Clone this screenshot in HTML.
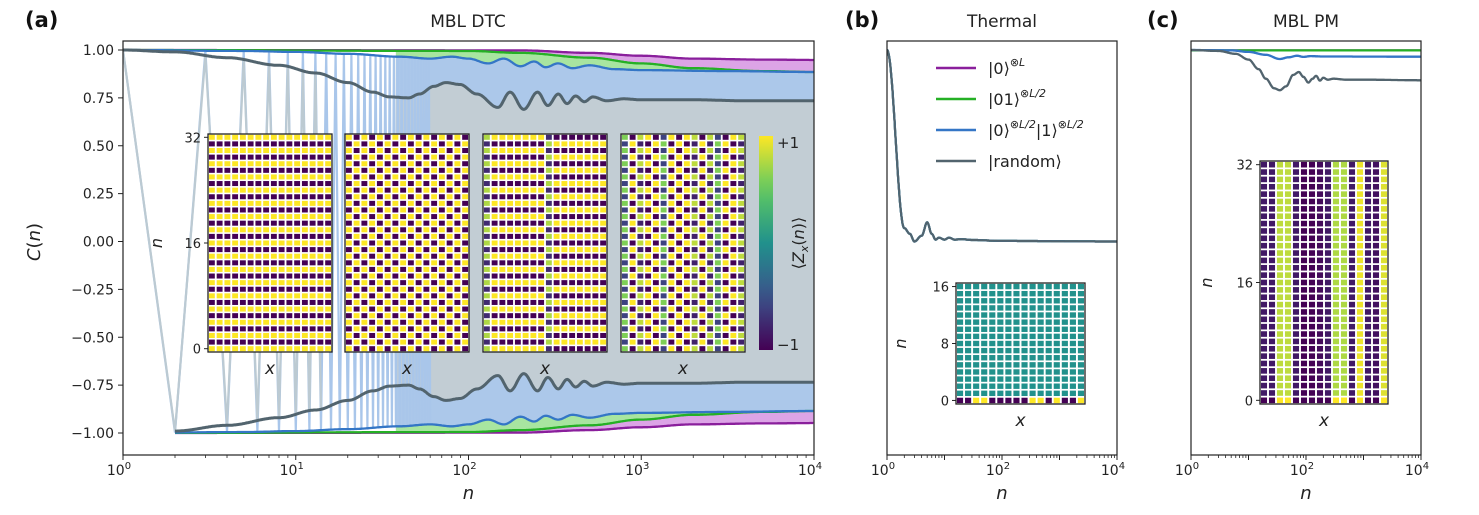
<!DOCTYPE html>
<html><head><meta charset="utf-8">
<style>
html,body{margin:0;padding:0;background:#fff;}
svg{display:block;font-family:"DejaVu Sans","Liberation Sans",sans-serif;}
</style></head>
<body>
<svg id="fig" width="1479" height="515" viewBox="0 0 1479 515"></svg>
<script>
// ---------- DATA ----------
const greyN = [1,2,4,8,13,20,28,35,45,52,63,74,89,112,148,174,209,251,288,331,372,417,468,525,631,794,1000,2000,4000,10000];
const greyV = [1,0.99,0.96,0.92,0.88,0.83,0.78,0.755,0.75,0.77,0.81,0.83,0.82,0.77,0.70,0.78,0.69,0.78,0.71,0.77,0.72,0.76,0.73,0.755,0.735,0.745,0.74,0.74,0.735,0.735];
const blueN = [1,5,10,20,40,60,80,100,130,160,200,240,280,330,400,500,700,1000,3000,10000];
const blueV = [1,0.995,0.99,0.98,0.965,0.955,0.965,0.955,0.93,0.955,0.915,0.94,0.91,0.93,0.905,0.92,0.9,0.895,0.89,0.885];
const greenN = [1,100,200,500,1000,2000,5000,10000];
const greenV = [1,0.995,0.985,0.96,0.93,0.905,0.89,0.885];
const purpleN = [1,200,500,1000,2000,5000,10000];
const purpleV = [1,0.998,0.985,0.97,0.955,0.95,0.948];
const thermN = [1,2,2.5,3,4,5,6,7,8,10,12,15,20,30,100,10000];
const thermV = [1,0.07,0.04,0.0,0.03,0.1,0.04,0.01,0.02,0.01,0.02,0.01,0.012,0.008,0.003,0.0];
const pmGreyN = [1,3,6,10,15,20,28,35,45,60,75,90,110,130,150,175,200,240,300,500,1000,10000];
const pmGreyV = [1,0.995,0.98,0.95,0.9,0.85,0.8,0.79,0.81,0.87,0.885,0.86,0.83,0.85,0.865,0.84,0.855,0.845,0.85,0.845,0.845,0.842];
const pmBlueN = [1,5,10,20,35,50,70,90,120,200,10000];
const pmBlueV = [1,0.998,0.99,0.975,0.953,0.962,0.97,0.964,0.968,0.966,0.965];
const pmGreenN = [1,10000];
const pmGreenV = [0.998,0.998];
const randSign = [1,-1,1,1,-1,-1,1,-1,1,1,-1,1,-1,-1,1,1];
const randAmp = [0.6,1,0.8,1,1,0.6,1,1,1,0.8,1,0.8,0.6,1,1,0.8];
const pmCols = [-0.85,-0.85,0.8,0.8,-0.85,-1,-1,-0.95,-0.85,0.75,0.75,-0.85,0.95,-0.85,-0.9,0.9];
const thermBottom = [-1,-1,1,1,-1,-1,-1,-1,-1,1,1,-1,1,-1,-1,1];
const yTicksA = [1,0.75,0.5,0.25,0,-0.25,-0.5,-0.75,-1];
const yTickLabelsA = ["1.00","0.75","0.50","0.25","0.00","\u22120.25","\u22120.50","\u22120.75","\u22121.00"];
const xTickExpA = [0,1,2,3,4];
const xTickExpBC = [0,2,4];

// ---------- helpers ----------
const NS="http://www.w3.org/2000/svg";
const svg=document.getElementById('fig');
function mk(tag,attrs,parent){const e=document.createElementNS(NS,tag);for(const k in attrs)e.setAttribute(k,attrs[k]);(parent||svg).appendChild(e);return e;}
const Y0=241.5, YS=191.5, TOP=41, BOT=455;
function yv(v){return Y0-v*YS;}
function xfun(x0,x1){return n=>x0+(Math.log10(n)/4)*(x1-x0);}
function interp(N,V,n){if(n<=N[0])return V[0];for(let i=1;i<N.length;i++){if(n<=N[i]){const a=Math.log10(N[i-1]),b=Math.log10(N[i]);let t=(Math.log10(n)-a)/(b-a);t=(1-Math.cos(Math.PI*t))/2;return V[i-1]+t*(V[i]-V[i-1]);}}return V[V.length-1];}
function viridis(v){const t=Math.max(0,Math.min(1,(v+1)/2));const s=[[0,[68,1,84]],[0.25,[59,82,139]],[0.5,[33,145,140]],[0.75,[94,201,98]],[1,[253,231,37]]];for(let i=1;i<s.length;i++){if(t<=s[i][0]){const u=(t-s[i-1][0])/(s[i][0]-s[i-1][0]);const c=s[i-1][1].map((q,j)=>Math.round(q+u*(s[i][1][j]-q)));return `rgb(${c})`;}}return 'rgb(253,231,37)';}
function curvePath(X,N,V,sign,nStart){let d='';const pts=[];for(let l=Math.log10(nStart);l<=4.0001;l+=0.005){const n=Math.pow(10,l);pts.push([X(n),yv(sign*interp(N,V,n))]);}pts.forEach((p,i)=>d+=(i?'L':'M')+p[0].toFixed(1)+','+p[1].toFixed(1));return {d,pts};}
function text(x,y,s,attrs,parent){const t=mk('text',Object.assign({x,y},attrs||{}),parent);t.textContent=s;return t;}

function axesFrame(x0,x1,name,exps){
  const r=mk('rect',{x:x0,y:TOP,width:x1-x0,height:BOT-TOP,fill:'none',stroke:'#222','stroke-width':1.2});
  
  
  const X=xfun(x0,x1);
  exps.forEach(e=>{
    const x=X(Math.pow(10,e));
    const tk=mk('line',{x1:x,x2:x,y1:BOT,y2:BOT+5,stroke:'#222','stroke-width':1});
    
    
    const t=mk('text',{x:x-4,y:BOT+20,'font-size':14,'text-anchor':'middle',fill:'#222'});
    
    
    t.textContent='10';
    const sp=mk('tspan',{dy:-6,'font-size':10},t);sp.textContent=String(e);
  });
  for(let e=0;e<4;e++){for(let m=2;m<10;m++){const xm=X(m*Math.pow(10,e));const mt=mk('line',{x1:xm,x2:xm,y1:BOT,y2:BOT+3,stroke:'#222','stroke-width':0.8});}
    if(exps.indexOf(e)<0){const xm=X(Math.pow(10,e));const mt=mk('line',{x1:xm,x2:xm,y1:BOT,y2:BOT+5,stroke:'#222','stroke-width':1});}}
  const xl=text((x0+x1)/2,BOT+44,'n',{'font-size':18,'font-style':'italic','text-anchor':'middle',fill:'#222'});
  
  
  return X;
}
function clip(id,x0,x1){const d=mk('defs',{});const c=mk('clipPath',{id},d);mk('rect',{x:x0,y:TOP,width:x1-x0,height:BOT-TOP},c);}

// ---------- PANEL A ----------
const AX0=123, AX1=814;
clip('ca',AX0,AX1);
const ga=mk('g',{'clip-path':'url(#ca)'});


const XA=xfun(AX0,AX1);
const series=[
 {name:'purple',N:purpleN,V:purpleV,fill:'#dca4e6',line:'#8a1f9c'},
 {name:'green',N:greenN,V:greenV,fill:'#a8e5a0',line:'#25b025'},
 {name:'blue',N:blueN,V:blueV,fill:'#acc8ea',line:'#3476c6'},
 {name:'grey',N:greyN,V:greyV,fill:'#c2cdd4',line:'#52646e'}
];
const FILLSTART=38;
series.forEach(s=>{
  const top=curvePath(XA,s.N,s.V,1,FILLSTART).pts, bot=curvePath(XA,s.N,s.V,-1,FILLSTART).pts.reverse();
  let d='';top.concat(bot).forEach((p,i)=>d+=(i?'L':'M')+p[0].toFixed(1)+','+p[1].toFixed(1));d+='Z';
  const f=mk('path',{d,fill:s.fill,stroke:'none'},ga);
  
  
});
[['blue',blueN,blueV,'#a9c6ea',60],['grey',greyN,greyV,'#bccad2',14]].forEach(z=>{
  let d='';for(let n=1;n<=z[4];n++){const v=(n%2?1:-1)*interp(z[1],z[2],n);d+=(n>1?'L':'M')+XA(n).toFixed(1)+','+yv(v).toFixed(1);}
  const p=mk('path',{d,fill:'none',stroke:z[3],'stroke-width':2.2},ga);
  
  
});
series.forEach(s=>{
  [1,-1].forEach(sg=>{
    const p=mk('path',{d:curvePath(XA,s.N,s.V,sg,sg>0?1:2).d,fill:'none',stroke:s.line,'stroke-width':s.name==='grey'?3:2.3,'stroke-linejoin':'round'},ga);
    
    
  });
});
axesFrame(AX0,AX1,'panel-a',xTickExpA);
yTicksA.forEach((v,i)=>{
  const y=yv(v);
  const tk=mk('line',{x1:AX0-5,x2:AX0,y1:y,y2:y,stroke:'#222'});
  
  
  const t=text(AX0-9,y+5,yTickLabelsA[i],{'font-size':14,'text-anchor':'end',fill:'#222'});
  
  
});
const yla=mk('text',{x:40,y:242,'font-size':18,'text-anchor':'middle',fill:'#222',transform:'rotate(-90 40 242)'});


yla.innerHTML='<tspan font-style="italic">C</tspan>(<tspan font-style="italic">n</tspan>)';

// ---------- heatmap inset helper ----------
function heatmap(x0,y0,w,h,cols,rows,fn,name,ticks,tickLabels,nlabX){
  const g=mk('g',{});
  
  
  mk('rect',{x:x0,y:y0,width:w,height:h,fill:'#fff'},g);
  const cw=w/cols,ch=h/rows;
  for(let r=0;r<rows;r++){const n=rows-1-r;for(let c=0;c<cols;c++){
    const cell=mk('rect',{x:(x0+c*cw+cw*0.12).toFixed(2),y:(y0+r*ch+ch*0.12).toFixed(2),width:(cw*0.76).toFixed(2),height:(ch*0.76).toFixed(2),fill:viridis(fn(c,n))},g);
    
    
  }}
  mk('rect',{x:x0,y:y0,width:w,height:h,fill:'none',stroke:'#222','stroke-width':1.3},g);
  const xl=text(x0+w/2,y0+h+22,'x',{'font-size':17,'font-style':'italic','text-anchor':'middle',fill:'#222'},g);
  
  
  if(ticks){ticks.forEach((n,i)=>{const y=y0+(rows-1-n+0.5)*ch;
    const tk=mk('line',{x1:x0-4,x2:x0,y1:y,y2:y,stroke:'#222'});
    
    
    const t=text(x0-7,y+5,tickLabels[i],{'font-size':13,'text-anchor':'end',fill:'#222'});
    
    });
    const yc=y0+h/2;
    const nl=mk('text',{x:nlabX,y:yc,'font-size':16,'font-style':'italic','text-anchor':'middle',fill:'#222',transform:`rotate(-90 ${nlabX} ${yc})`});
    nl.textContent='n';
    
    
  }
}
const alt=n=>(n%2===0?1:-1);
heatmap(208,134,124,218,16,33,(x,n)=>alt(n),'inset-zero-state',[32,16,0],['32','16','0'],162);
heatmap(345,134,124,218,16,33,(x,n)=>alt(n+x),'inset-neel-state');
heatmap(483,134,124,218,16,33,(x,n)=>alt(n)*(x<8?1:-1)*((x===0||x===8)?0.75:1),'inset-domain-wall-state');
heatmap(621,134,124,218,16,33,(x,n)=>alt(n)*randSign[x]*randAmp[x],'inset-random-state');
const defs=mk('defs',{});const lg=mk('linearGradient',{id:'vir',x1:0,y1:1,x2:0,y2:0},defs);
for(let i=0;i<=10;i++){mk('stop',{offset:i/10,'stop-color':viridis(-1+i/5)},lg);}
const cb=mk('rect',{x:759,y:136,width:14,height:214,fill:'url(#vir)'});


const cbt=text(777,148,'+1',{'font-size':15,fill:'#222'});
const cbb=text(777,350,'\u22121',{'font-size':15,fill:'#222'});
const cbl=mk('text',{x:804,y:243,'font-size':16,'text-anchor':'middle',fill:'#222',transform:'rotate(-90 804 243)'});
cbl.innerHTML='\u27E8<tspan font-style="italic">Z</tspan><tspan font-size="11" dy="4" font-style="italic">x</tspan><tspan dy="-4">(</tspan><tspan font-style="italic">n</tspan>)\u27E9';



// ---------- PANEL B ----------
const BX0=887,BX1=1117;
clip('cb',BX0,BX1);
const XB=xfun(BX0,BX1);
const gb=mk('g',{'clip-path':'url(#cb)'});


[['#8a1f9c',2.2],['#25b025',2.2],['#3476c6',2.2],['#52646e',2]].forEach((c,i)=>{
  const p=mk('path',{d:curvePath(XB,thermN,thermV,1,1).d,fill:'none',stroke:c[0],'stroke-width':c[1]},gb);
  
  
});
axesFrame(BX0,BX1,'panel-b',xTickExpBC);
heatmap(956,283,129,121,16,17,(x,n)=>n===0?thermBottom[x]:0,'inset-thermal',[16,8,0],['16','8','0'],906);
const legendItems=[['#8a1f9c','|0\u27E9','\u2297L'],['#25b025','|01\u27E9','\u2297L/2'],['#3476c6','|0\u27E9','\u2297L/2','|1\u27E9','\u2297L/2'],['#52646e','|random\u27E9']];
legendItems.forEach((it,i)=>{
  const y=68+i*31;
  const ln=mk('line',{x1:936,x2:976,y1:y,y2:y,stroke:it[0],'stroke-width':2.4});
  
  
  const t=mk('text',{x:988,y:y+6,'font-size':16,fill:'#222'});
  
  
  let h=it[1];
  if(it[2])h+=`<tspan font-size="11" dy="-8" font-style="italic">${it[2]}</tspan>`;
  if(it[3])h+=`<tspan dy="8">${it[3]}</tspan><tspan font-size="11" dy="-8" font-style="italic">${it[4]}</tspan>`;
  t.innerHTML=h;
});

// ---------- PANEL C ----------
const CX0=1191,CX1=1421;
clip('cc',CX0,CX1);
const XC=xfun(CX0,CX1);
const gc=mk('g',{'clip-path':'url(#cc)'});


[[pmGreenN,pmGreenV,'#8a1f9c','purple'],[pmGreenN,pmGreenV,'#25b025','green'],[pmBlueN,pmBlueV,'#3476c6','blue'],[pmGreyN,pmGreyV,'#52646e','grey']].forEach(s=>{
  const p=mk('path',{d:curvePath(XC,s[0],s[1],1,1).d,fill:'none',stroke:s[2],'stroke-width':2.3},gc);
  
  
});
axesFrame(CX0,CX1,'panel-c',xTickExpBC);
heatmap(1260,161,128,243,16,33,(x,n)=>n===0?Math.sign(pmCols[x]):pmCols[x],'inset-pm',[32,16,0],['32','16','0'],1212);

// ---------- titles ----------
[['(a)',25,'panel-a-label'],['(b)',845,'panel-b-label'],['(c)',1147,'panel-c-label']].forEach(l=>{
  const t=text(l[1],27,l[0],{'font-size':21,'font-weight':'bold',fill:'#111'});
  
  
});
[['MBL DTC',468,'panel-a-title'],['Thermal',1002,'panel-b-title'],['MBL PM',1306,'panel-c-title']].forEach(l=>{
  const t=text(l[1],27,l[0],{'font-size':17,'text-anchor':'middle',fill:'#222'});
  
  
});
</script>
</body></html>
